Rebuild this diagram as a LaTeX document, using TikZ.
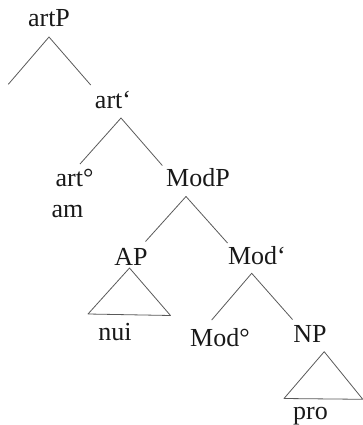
\documentclass[tikz,border=0pt]{standalone}
\usepackage{fontspec}
\setmainfont{Liberation Serif}
\usepackage{tikz}
\usetikzlibrary{calc}
\tikzset{
    catnode/.style = {anchor=base, inner sep=0pt, text=black!90,
                      font=\fontsize{26}{30}\selectfont},
    branch/.style  = {draw=black!65, line width=0.8pt, line join=round}
}

\begin{document}
\begin{tikzpicture}[x=1pt, y=-1pt]
\useasboundingbox (0,0) rectangle (363,425);
% category labels
\node[catnode] (artP)   at (49,27)    {artP};
\node[catnode] (artbar) at (113,108)  {art‘};
\node[catnode] (art0)   at (74.5,186.5) {art°};
\node[catnode] (am)     at (67.5,217) {am};
\node[catnode] (ModP)   at (198,186)  {ModP};
\node[catnode] (AP)     at (131,265)  {AP};
\node[catnode] (nui)    at (115,340)  {nui};
\node[catnode] (Modbar) at (257,264.5) {Mod‘};
\node[catnode] (Mod0)   at (220,346.5) {Mod°};
\node[catnode] (NP)     at (310,342)  {NP};
\node[catnode] (pro)    at (310.5,419) {pro};
% empty specifier
\coordinate (artPspec) at (8.3,84.3);
% branches
\draw[branch] (artPspec) -- ($(artP.base)+(0,10)$) -- ($(artbar.base)+(-22.3,-23)$);
\draw[branch] ($(art0.base)+(5.5,-22.5)$) -- ($(artbar.base)+(8,10)$) -- ($(ModP.base)+(-35.7,-20.5)$);
\draw[branch] ($(AP.base)+(14.5,-23.5)$) -- ($(ModP.base)+(-12,10.5)$) -- ($(Modbar.base)+(-29.5,-21.5)$);
\draw[branch] ($(Mod0.base)+(-8.3,-26.5)$) -- ($(Modbar.base)+(-5.3,8.8)$) -- ($(NP.base)+(-17.5,-22.5)$);
% triangles
\draw[branch] ($(AP.base)+(-1.5,3)$) -- ($(nui.base)+(55.5,-24.5)$) -- ($(nui.base)+(-27,-26)$) -- cycle;
\draw[branch] ($(NP.base)+(14.2,9.7)$) -- ($(pro.base)+(52.3,-19.7)$) -- ($(pro.base)+(-26.5,-20.5)$) -- cycle;
\end{tikzpicture}
\end{document}
